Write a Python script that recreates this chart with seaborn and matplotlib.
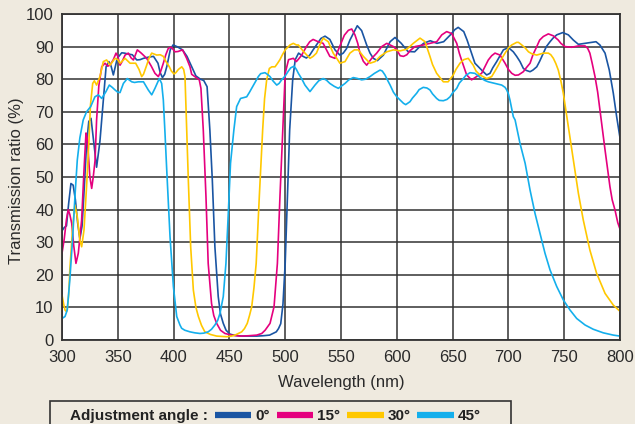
import numpy as np
import pandas as pd
import matplotlib
matplotlib.use("Agg")
import matplotlib.pyplot as plt
from matplotlib.offsetbox import DrawingArea
import seaborn as sns

# ---------------- data ----------------
angles = ["0°", "15°", "30°", "45°"]

wl_0 = [300, 302, 304, 306, 308, 310, 312, 314, 316, 318, 320, 322, 324, 326, 328, 331, 334, 337, 339.5, 342, 344, 346,
        349.5, 353.5, 356, 359.5, 363, 367, 370, 373, 378, 382, 386, 388, 390, 392, 394, 397, 399.5, 403, 408, 412, 416,
        420, 424, 427, 430, 432.5, 434.7, 437, 440, 442, 444.5, 447, 450.5, 455, 462, 468, 474.5, 480, 486, 489, 492,
        494, 496, 498, 500, 502, 504, 506.7, 509, 512, 516, 519, 522, 525, 528, 532, 535.7, 540, 544.6, 549, 552, 555,
        558, 561, 564.6, 568.5, 573, 576, 579, 582.6, 588, 591, 594, 598.4, 604, 610, 616, 620, 624, 630, 636, 642, 648,
        652, 655, 660, 663, 666, 670, 676, 680.5, 683.5, 686, 689.5, 695.5, 700, 704.4, 707.4, 710.4, 713.4, 716, 719.4,
        722, 725.4, 728, 731.3, 734, 737.3, 740, 743.3, 748.7, 753.7, 758.2, 762.7, 768.7, 773, 778.5, 782, 786.6, 790.4,
        794, 797, 800]
t_0 = [33.5, 34.5, 35, 42, 48, 47.5, 43, 36, 31, 35, 47, 60, 67, 68, 62, 53, 61, 73.6, 83.8, 85.4, 84, 81.3,
       86.4, 88.1, 88, 87.7, 87.5, 85.9, 86, 86.4, 86.8, 87, 84.9, 82, 80.5, 81.5, 84, 89, 90.5, 90, 89, 87, 84,
       81, 80, 79.6, 77.7, 64.4, 49, 28.6, 13.3, 8, 5.1, 3, 1.8, 1.4, 1.2, 1.2, 1.2, 1.3, 1.5, 2, 2.5,
       3.5, 5, 11, 23.6, 44, 64.4, 79.8, 86, 88, 87, 86.5, 87.4, 89, 90.5, 92.5, 93.2, 92.2, 89, 87.4, 88, 89.4,
       92, 94, 96.4, 94.9, 90.5, 88, 86.4, 85.7, 87.4, 89.5, 91.5, 92.8, 91, 88.5, 88.4, 89.8, 91, 91.8, 91, 91.5, 93.6,
       95.2, 95.9, 94.6, 92, 89, 84.9, 82.8, 81.3, 81.8, 83.5, 85.4, 89, 89.7, 88.4, 87, 85.4, 83.3, 82.7, 82.3,
       82.8, 83.8, 85.5, 88, 90, 91.5, 92.6, 93.6, 94.3, 93.6, 92, 90.7, 91, 91.2, 91.5, 90.5, 88, 82.8,
       75.7, 68.5, 62]

wl_15 = [300, 302, 304, 305.6, 307, 308.7, 310.5, 312.5, 314.6, 317.6, 319.7, 321.5, 322.5, 323.6, 325, 326.6, 328,
         329.6, 331, 333, 335.6, 338.5, 341, 343, 346, 348.4, 350, 352, 354, 356.5, 359.4, 362, 364, 367.5, 371,
         375.9, 380, 383.3, 386.3, 388, 390.8, 393, 395.3, 398, 401.3, 404, 408, 411.7, 414.7, 416.2, 419, 423, 424.5,
         426.6, 429, 431, 434, 436, 438.6, 442, 446, 452, 459.5, 467, 474.5, 479, 482, 486.4, 490, 493, 495.3, 497.8,
         500, 503, 507.3, 510, 512, 514.8, 519, 522, 525, 529.5, 534, 537, 540, 544.6, 547, 550.6, 553, 556.6, 559.6,
         562.5, 565, 567, 570, 573, 577.5, 582, 586.5, 591, 597, 600, 603, 606, 609, 612, 616.3, 623.8, 629.8, 635.8,
         640.3, 644.7, 649.2, 653.7, 656, 658, 662.6, 667, 671.5, 676, 682, 685, 688, 692.5, 697, 700, 703, 706, 709,
         713.4, 716, 719.4, 722, 725.4, 728, 731.3, 735.8, 740.3, 744.7, 747, 750.7, 756.7, 762.7, 768.7, 771, 773,
         775, 777.6, 780, 782, 784, 786.6, 789, 791, 793, 795.5, 798, 800]
t_15 = [26.6, 31, 37, 40, 38.5, 35.8, 29, 23.5, 26.6, 36.8, 52, 63.5, 62, 57, 50, 46.5, 50,
        55, 67.5, 78, 83.8, 84.9, 84, 84.3, 86, 88, 87, 84.3, 85.5, 87.4, 88, 86.5, 85.9, 89, 88,
        86.4, 84, 81.8, 80.8, 82, 84.9, 87.5, 89.5, 89.8, 88.4, 88.5, 89, 86.4, 83.8, 81.5, 80.8, 79.8, 77.2,
        64.4, 44, 23.5, 11.2, 7.5, 5.1, 3, 2, 1.5, 1.2, 1.3, 1.5, 2, 3, 5.1, 10.2, 23.5, 44, 64.4,
        81.8, 86, 86.4, 85.4, 86.2, 87.4, 90, 91.5, 92.2, 91.5, 91, 89, 87, 86.4, 88.5, 91.5, 93.5, 95, 95.4,
        93.6, 91, 88, 85.5, 84.3, 86.4, 88, 90, 91, 90, 89, 87.2, 87, 87.5, 88.8, 90, 90.5, 91, 91.5,
        93.6, 94.6, 94, 91, 88, 85.9, 81.3, 79.8, 80.8, 81.8, 85.9, 87.2, 88, 87.4, 84.9, 83, 81.8, 81.2, 81.3,
        82.3, 83.5, 84.9, 87.5, 90, 92, 93.1, 93.9, 93.3, 92, 91, 90, 89.8, 90.2, 90.2, 89.5, 88,
        85, 80.8, 76, 70.6, 65, 58.3, 52, 47, 43, 39.9, 36, 34]

wl_30 = [300, 301.5, 302.7, 304, 304.7, 306, 307, 309.6, 311.6, 313.7, 316, 317.6, 319.7, 322, 324, 325.5, 327.5,
         329, 331, 334, 337, 340, 343, 347.5, 350, 352, 356.5, 361, 366, 369, 371.4, 373, 375.9, 378, 380.4, 384.9,
         388, 390.8, 393, 396.2, 398, 400.4, 402, 404.3, 407.3, 409, 410.2, 411.7, 413.2, 415.3, 417.7, 420, 422.2,
         425, 428, 433, 438.6, 447.5, 452, 455, 458, 461, 463.5, 466, 468, 470, 472, 474, 476.8, 479.8, 481.5, 483.4,
         485.8, 488, 490.9, 493, 495.3, 497.5, 500, 504.3, 507.3, 510, 511.8, 514, 517.7, 522.2, 525, 528, 531, 534,
         538.6, 543, 546, 549, 553.6, 558, 562, 565.5, 570, 576, 580.5, 585, 591, 597, 603, 609, 614.8, 620.8, 625.3,
         629.7, 632, 635.7, 641.7, 646, 650.6, 653, 656.6, 660, 664, 668.5, 671, 674.5, 680.5, 685, 688, 691, 694, 697,
         700, 703, 707.4, 709, 712, 715, 718, 721, 725.4, 731.3, 735.8, 738, 740.3, 742.5, 744.7, 747, 749.2, 753.7,
         758.2, 762.7, 767.1, 773, 779, 786.6, 794, 800]
t_30 = [13.8, 11, 9.2, 8.7, 9.5, 14, 21.5, 34.8, 41.4, 37.8, 30.7, 28.6, 33.7, 47, 60, 72, 78.7,
        79.5, 78.2, 80.8, 85.4, 85.9, 84.3, 86.4, 86, 84.9, 86.4, 84.9, 84.9, 83, 80.8, 81.5, 84.3, 86.5, 88, 87.4,
        87.5, 87, 85.5, 83.8, 82.5, 81.6, 82, 83, 83.8, 83, 80.8, 64.4, 49, 28.6, 15.3, 10, 7.2,
        4.5, 2.5, 1.7, 1.2, 1, 1.2, 1.5, 2, 2.5, 3.5, 5.1, 7.5, 10.2, 16, 23.5, 44, 64.4, 74, 79.8,
        83.3, 83.8, 83.8, 84.8, 86, 87.5, 89, 90.5, 91, 90.5, 90.5, 89.5, 88, 86.4, 87, 88, 90.5, 92.6,
        91.5, 88, 86.5, 84.9, 85.4, 88, 89, 89, 87, 84.9, 85.4, 87, 88.4, 89, 88.7, 89.2, 91, 92.6, 91.5,
        87, 84.5, 81.8, 79.2, 79.2, 81.3, 83, 84.9, 86, 86.4, 84.3, 82.5, 81.3, 80.2, 80.8, 82.5, 84.3, 86.3, 88,
        89.6, 90.5, 91.3, 91.3, 90.5, 89.6, 88.4, 87.8, 87.4, 88, 88, 87.5, 86.4, 84.8, 82.8, 79.5, 75.7, 65.4,
        55.2, 45, 36.8, 27.6, 20.5, 14.3, 10.7, 8.8]

wl_45 = [300, 302.7, 304.7, 307, 309.6, 311.6, 313.7, 316, 319, 322, 325.7, 329.5, 332.5, 335.6, 339.4, 342.4, 345,
         347.5, 350, 352, 355, 358.5, 362.5, 365, 368.4, 373, 377.3, 380.4, 383.3, 387.2, 389.3, 390.8, 392.3, 393.8,
         396.8, 399.8, 402.8, 405.7, 407.2, 410, 414.7, 419, 423.6, 427, 431, 434, 437, 439.5, 441.6, 444.5, 446.9,
         449, 451, 454, 456.5, 460, 465.5, 468, 470, 475.9, 478, 481.9, 484, 486.4, 489, 492.4, 494.5, 496.8, 500,
         502.8, 505, 508, 510, 511.8, 515, 517.7, 522.2, 526.7, 530, 534, 537, 540, 544, 547.6, 553.6, 557, 561, 565,
         568.5, 572, 576, 580, 585, 587, 589.4, 592, 594, 597, 600, 603, 606, 608, 611.8, 614, 617.8, 620, 623.7, 627,
         629.7, 632, 635.7, 638, 641.7, 645, 647.7, 650, 653.7, 656, 659.6, 662, 665.6, 670, 673, 676, 679, 682, 688,
         694, 697, 698.5, 700, 701.4, 704.4, 706, 710.4, 715, 719.4, 723.8, 728.3, 732.8, 737.3, 743.3, 749.2, 755.2,
         761.2, 768.7, 776, 785, 794, 800]
t_45 = [6.6, 7.2, 9.2, 18.4, 31.7, 44, 55.2, 62, 67.5, 70, 71.6, 74.6, 75.2, 74.1, 76.2, 78.2, 77.5,
        76.7, 76, 75.9, 78.7, 80.2, 79.2, 79, 79.2, 79.2, 76.7, 75.2, 77.2, 80.2, 78.7, 73.6, 63.4, 52.5,
        31.7, 16.4, 7.2, 4.6, 3.6, 3, 2.5, 2.2, 2, 2.1, 2.5, 3.3, 4.6, 6, 8.2, 13.3, 23.5,
        38.8, 54.2, 64.4, 71.6, 74.1, 74.6, 76, 77.2, 80.8, 81.7, 82, 81.5, 80.8, 79.5, 78.2, 78.7, 79.8, 81,
        82.5, 83.5, 84, 83, 81.8, 80, 78.2, 76.2, 78.2, 79.5, 80.2, 79.7, 78.7, 77.8, 77.2, 78.7, 79.8, 80.5, 80.2,
        79.8, 80, 80.8, 81.8, 82.8, 82.5, 81.3, 79.5, 78.2, 76, 74.6, 73.6, 72.6, 72.2, 73.1, 74.2, 75.7, 76.8, 77.5, 77.3,
        76.7, 75.5, 74.1, 73.5, 73.4, 73.8, 74.6, 75.8, 77.2, 78.8, 80.2, 81.2, 82, 81.8, 81, 80.2, 79.6, 79.2, 78.7,
        78.2, 77.5, 76.7, 75.5, 73.6, 68.5, 67.5, 60.3, 54.2, 46, 38.9, 32.7, 26.6, 21.5, 16.4, 12.3, 9.2,
        6.6, 4.6, 3.3, 2.2, 1.5, 1.2]

x_ticks = [300, 350, 400, 450, 500, 550, 600, 650, 700, 750, 800]
y_ticks = [0, 10, 20, 30, 40, 50, 60, 70, 80, 90, 100]

colors = ["#1a55a3", "#e5007e", "#ffc800", "#14afec"]

# ---------------- build frame ----------------
frames = []
for ang, wl, tr in zip(angles, [wl_0, wl_15, wl_30, wl_45], [t_0, t_15, t_30, t_45]):
    frames.append(pd.DataFrame({"wl": wl, "tr": tr, "angle": ang}))
df = pd.concat(frames, ignore_index=True)

# ---------------- style ----------------
sns.set_style("white")
BG = "#efeadf"
plt.rcParams["font.family"] = ["Liberation Sans", "DejaVu Sans"]
plt.rcParams["text.color"] = "#222222"

fig = plt.figure(figsize=(6.35, 4.24), dpi=100, facecolor=BG)
ax = fig.add_axes([62 / 635, 1 - 340 / 424, (620 - 62) / 635, (340 - 14) / 424])
ax.set_facecolor("white")

sns.lineplot(data=df, x="wl", y="tr", hue="angle", hue_order=angles,
             palette=dict(zip(angles, colors)), estimator=None, sort=False,
             linewidth=1.2, ax=ax, legend=True)

ax.set_xlim(300, 800)
ax.set_ylim(0, 100)
ax.set_xticks(x_ticks)
ax.set_yticks(y_ticks)
ax.grid(True, color="#333333", linewidth=1.1)
ax.set_axisbelow(True)
for s in ax.spines.values():
    s.set_color("#333333")
    s.set_linewidth(1.3)
ax.tick_params(axis="both", length=0, labelsize=12, labelcolor="#2a2a2a")
ax.tick_params(axis="x", pad=7)
ax.tick_params(axis="y", pad=6)
ax.set_xlabel("Wavelength (nm)", fontsize=12, color="#2a2a2a")
ax.set_ylabel("Transmission ratio (%)", fontsize=12, color="#2a2a2a")
ax.xaxis.set_label_coords((341.5 - 62) / 558, (340 - 375) / 326)
ax.yaxis.set_label_coords((24 - 62) / 558, (340 - 180.5) / 326)

handles, labels = ax.get_legend_handles_labels()
ax.get_legend().remove()
leg = fig.legend(handles, labels, loc="upper left",
                 bbox_to_anchor=(50 / 635, 1 - 401 / 424), bbox_transform=fig.transFigure,
                 ncol=4, title="Adjustment angle :", frameon=True, fancybox=False,
                 edgecolor="#333333", facecolor=BG, framealpha=1,
                 handlelength=2.4, handletextpad=0.25, columnspacing=0.45,
                 borderpad=0.55, borderaxespad=0,
                 prop={"weight": "bold", "size": 11},
                 title_fontproperties={"weight": "bold", "size": 11})
leg.get_frame().set_linewidth(1.2)
for ln in leg.get_lines():
    ln.set_linewidth(4.5)
    ln.set_solid_capstyle("butt")
# place title inline with the entries, with extra side padding
vbox = leg._legend_box
children = vbox.get_children()
title_box, hbox = children[0], children[1]
vbox._children = [hbox]
hbox._children = [DrawingArea(3.35, 1), title_box] + hbox.get_children() + [DrawingArea(10.6, 1)]

fig.savefig("out.png", dpi=100, facecolor=BG)
